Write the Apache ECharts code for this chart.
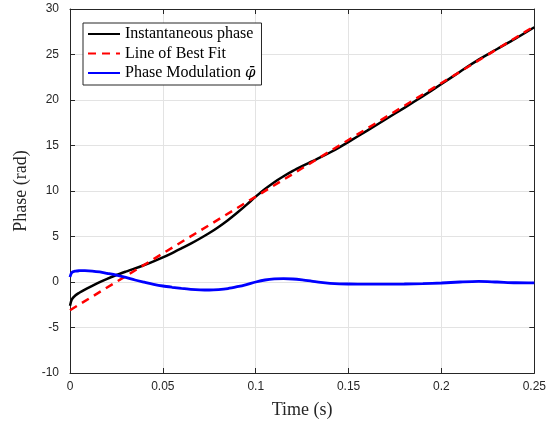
<!DOCTYPE html>
<html><head><meta charset="utf-8">
<script src="https://cdn.jsdelivr.net/npm/echarts@6/dist/echarts.min.js"></script>
<style>html,body{margin:0;padding:0;background:#fff}#c{width:549px;height:430px}</style>
</head><body><div id="c"></div>
<script>
// Time samples (s)
const timeS = [0, 0.001, 0.003, 0.005, 0.008, 0.012, 0.016, 0.02, 0.025, 0.03, 0.035, 0.04, 0.045, 0.05, 0.055, 0.06, 0.065, 0.07, 0.075, 0.08, 0.085, 0.09, 0.095, 0.1, 0.105, 0.11, 0.115, 0.12, 0.125, 0.13, 0.135, 0.14, 0.145, 0.15, 0.16, 0.17, 0.18, 0.19, 0.2, 0.21, 0.22, 0.23, 0.24, 0.25];
// Instantaneous phase (rad)
const instPhase = [-2.6, -1.9, -1.45, -1.18, -0.83, -0.42, -0.02, 0.35, 0.77, 1.14, 1.49, 1.87, 2.27, 2.70, 3.18, 3.69, 4.21, 4.78, 5.38, 6.05, 6.79, 7.61, 8.48, 9.38, 10.22, 10.97, 11.62, 12.21, 12.73, 13.22, 13.71, 14.23, 14.80, 15.40, 16.63, 17.89, 19.14, 20.43, 21.75, 23.11, 24.43, 25.60, 26.77, 28.0];
// Phase modulation (rad)
const phaseMod = [0.55, 1.05, 1.2, 1.24, 1.25, 1.2, 1.1, 0.95, 0.75, 0.5, 0.22, -0.02, -0.25, -0.44, -0.58, -0.7, -0.8, -0.86, -0.88, -0.83, -0.72, -0.52, -0.28, 0.0, 0.22, 0.34, 0.37, 0.33, 0.23, 0.1, -0.04, -0.14, -0.2, -0.22, -0.24, -0.23, -0.22, -0.18, -0.11, 0.0, 0.07, 0.0, -0.08, -0.1];
// Line of best fit endpoints
const fitTime = [0, 0.25];
const fitPhase = [-3.1, 28.1];
const xTicks = [0, 0.05, 0.1, 0.15, 0.2, 0.25];
const yTicks = [-10, -5, 0, 5, 10, 15, 20, 25, 30];

const zip = (a, b) => a.map((v, i) => [v, b[i]]);
const axisCol = '#262626';
const gridCol = '#e3e3e3';
const serif = 'Liberation Serif';
const sans = 'Liberation Sans';

const chart = echarts.init(document.getElementById('c'), null, {renderer: 'canvas'});
const baseX = {
  type: 'value', min: xTicks[0], max: xTicks[xTicks.length - 1], interval: 0.05,
  axisLine: {show: true, onZero: false, lineStyle: {color: axisCol, width: 1}},
  axisTick: {show: true, inside: true, length: 5, lineStyle: {color: axisCol}},
  splitLine: {show: false}
};
const baseY = {
  type: 'value', min: yTicks[0], max: yTicks[yTicks.length - 1], interval: 5,
  axisLine: {show: true, onZero: false, lineStyle: {color: axisCol, width: 1}},
  axisTick: {show: true, inside: true, length: 5, lineStyle: {color: axisCol}},
  splitLine: {show: false}
};
chart.setOption({
  animation: false,
  grid: {left: 70, right: 14, top: 9, bottom: 57, containLabel: false},
  xAxis: [
    Object.assign({}, baseX, {
      position: 'bottom',
      splitLine: {show: true, lineStyle: {color: gridCol, width: 1}},
      axisLabel: {color: axisCol, fontFamily: sans, fontSize: 12, margin: 8,
        formatter: v => String(+v.toFixed(2))},
      name: 'Time (s)', nameLocation: 'middle', nameGap: 28,
      nameTextStyle: {fontFamily: serif, fontSize: 18, color: axisCol}
    }),
    Object.assign({}, baseX, {position: 'top', axisLabel: {show: false}})
  ],
  yAxis: [
    Object.assign({}, baseY, {
      position: 'left',
      splitLine: {show: true, lineStyle: {color: gridCol, width: 1}},
      axisLabel: {color: axisCol, fontFamily: sans, fontSize: 12, margin: 11},
      name: 'Phase (rad)', nameLocation: 'middle', nameGap: 40,
      nameTextStyle: {fontFamily: serif, fontSize: 18, color: axisCol}
    }),
    Object.assign({}, baseY, {position: 'right', axisLabel: {show: false}})
  ],
  legend: {
    orient: 'vertical', left: 83, top: 23,
    backgroundColor: '#fff', borderColor: '#262626', borderWidth: 1,
    padding: [3, 6, 4, 4], itemGap: 3.5, itemWidth: 32, itemHeight: 14,
    itemStyle: {opacity: 0},
    textStyle: {fontFamily: serif, fontSize: 16, color: '#000', lineHeight: 16,
      rich: {i: {fontFamily: 'DejaVu Serif', fontSize: 15, fontStyle: 'italic', color: '#000'}}},
    formatter: n => n === 'Phase Modulation' ? 'Phase Modulation {i|\u03C6\u0304}' : n,
    data: ['Instantaneous phase', 'Line of Best Fit', 'Phase Modulation']
  },
  series: [
    {name: 'Instantaneous phase', type: 'line', smooth: 0.3, symbol: 'none',
      data: zip(timeS, instPhase), lineStyle: {color: '#000', width: 2.5}, itemStyle: {color: '#000'}, z: 2},
    {name: 'Line of Best Fit', type: 'line', symbol: 'none',
      data: zip(fitTime, fitPhase), lineStyle: {color: '#ff0000', width: 2.5, type: [8, 6]}, itemStyle: {color: '#ff0000'}, z: 3},
    {name: 'Phase Modulation', type: 'line', smooth: 0.3, symbol: 'none',
      data: zip(timeS, phaseMod), lineStyle: {color: '#0000ff', width: 2.8}, itemStyle: {color: '#0000ff'}, z: 4}
  ]
});
</script></body></html>
